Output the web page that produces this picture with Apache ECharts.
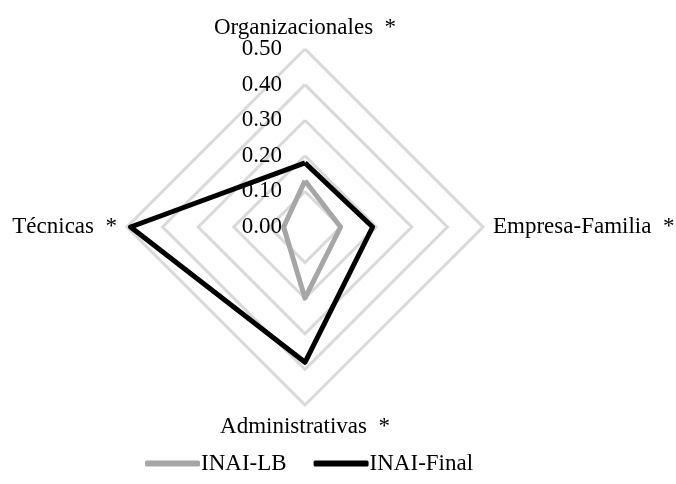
<!DOCTYPE html>
<html>
<head>
<meta charset="utf-8">
<script src="https://cdn.jsdelivr.net/npm/echarts@6/dist/echarts.min.js"></script>
<style>
html,body{margin:0;padding:0;background:#fff;}
#chart{width:676px;height:484px;}
</style>
</head>
<body>
<div id="chart"></div>
<script>
// indicator order follows ECharts' counter-clockwise layout: top, left, bottom, right
const indicators = ['Organizacionales  *', 'Técnicas  *', 'Administrativas  *', 'Empresa-Familia  *'];
const seriesNames = ['INAI-LB', 'INAI-Final'];
const inaiLB = [0.13, 0.06, 0.20, 0.10];
const inaiFinal = [0.18, 0.49, 0.38, 0.19];
const axisMax = 0.5;
const tickStep = 0.1;

const font = 'Liberation Serif, Times New Roman, serif';
const chart = echarts.init(document.getElementById('chart'));
chart.setOption({
  backgroundColor: '#fff',
  animation: false,
  textStyle: { fontFamily: font },
  legend: {
    top: 447,
    left: 140,
    itemWidth: 55,
    itemHeight: 6,
    itemGap: 27,
    icon: 'roundRect',
    textStyle: { fontFamily: font, fontSize: 23, color: '#000', padding: [0, 0, 0, -4] },
    data: seriesNames
  },
  radar: {
    center: [305, 227],
    radius: 178,
    startAngle: 90,
    shape: 'polygon',
    splitNumber: 5,
    indicator: indicators.map(n => ({ name: n, min: 0, max: axisMax })),
    axisName: { color: '#000', fontFamily: font, fontSize: 23 },
    nameGap: 10,
    axisLine: { show: false },
    axisTick: { show: false },
    axisLabel: { show: false },
    splitArea: { show: false },
    splitLine: { lineStyle: { color: '#d9d9d9', width: 3 } }
  },
  polar: { center: [305, 227], radius: 178 },
  angleAxis: { show: false, min: 0, max: 360 },
  radiusAxis: {
    min: 0, max: axisMax, interval: tickStep,
    axisLine: { show: false }, axisTick: { show: false }, splitLine: { show: false },
    axisLabel: { formatter: v => v.toFixed(2), fontFamily: font, fontSize: 23, color: '#000', margin: 23 }
  },
  series: [{
    type: 'radar',
    symbol: 'none',
    data: [
      { name: seriesNames[0], value: inaiLB, lineStyle: { color: '#a6a6a6', width: 5 }, itemStyle: { color: '#a6a6a6' } },
      { name: seriesNames[1], value: inaiFinal, lineStyle: { color: '#000', width: 5 }, itemStyle: { color: '#000' } }
    ]
  }, {
    type: 'scatter', coordinateSystem: 'polar', data: [], silent: true
  }]
});
</script>
</body>
</html>
